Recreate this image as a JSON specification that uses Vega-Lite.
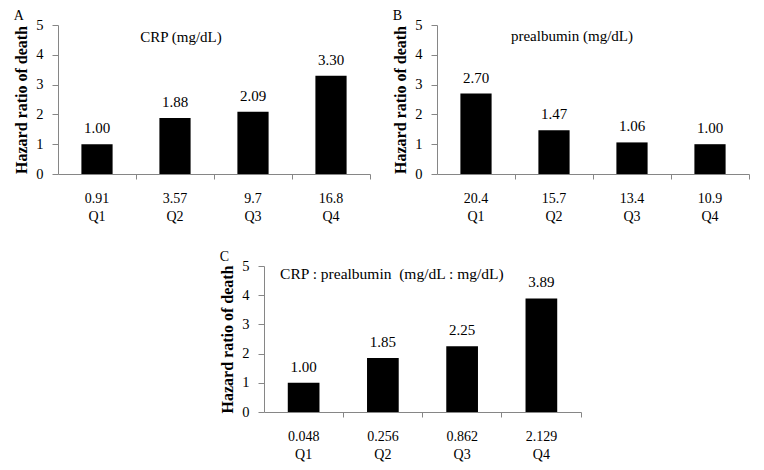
{
  "$schema": "https://vega.github.io/schema/vega-lite/v6.json",
  "background": "white",
  "padding": {"left": 13, "top": 9, "right": 0, "bottom": 0},
  "datasets": {
    "A": [
      {"cat": "0.91|Q1", "hr": 1.00},
      {"cat": "3.57|Q2", "hr": 1.88},
      {"cat": "9.7|Q3", "hr": 2.09},
      {"cat": "16.8|Q4", "hr": 3.30}
    ],
    "B": [
      {"cat": "20.4|Q1", "hr": 2.70},
      {"cat": "15.7|Q2", "hr": 1.47},
      {"cat": "13.4|Q3", "hr": 1.06},
      {"cat": "10.9|Q4", "hr": 1.00}
    ],
    "C": [
      {"cat": "0.048|Q1", "hr": 1.00},
      {"cat": "0.256|Q2", "hr": 1.85},
      {"cat": "0.862|Q3", "hr": 2.25},
      {"cat": "2.129|Q4", "hr": 3.89}
    ]
  },
  "config": {
    "view": {"stroke": null},
    "font": "Liberation Serif",
    "text": {"font": "Liberation Serif", "fontWeight": "normal", "color": "black"},
    "axis": {
      "labelFont": "Liberation Serif",
      "labelFontWeight": "normal",
      "labelColor": "black",
      "titleFont": "Liberation Serif",
      "titleFontSize": 16,
      "titleFontWeight": "bold",
      "titleColor": "black",
      "domainColor": "#868686",
      "tickColor": "#868686",
      "grid": false
    },
    "axisX": {"labelFontSize": 14, "labelBaseline": "top", "labelLineHeight": 18.5, "labelPadding": 12, "labelAngle": 0, "tickSize": 5, "bandPosition": 1.75, "title": null, "labelExpr": "split(datum.label, '|')"},
    "axisY": {"labelFontSize": 14.5, "tickSize": 6, "labelPadding": 9, "titlePadding": 6, "tickCount": 5},
    "title": {"font": "Liberation Serif", "fontSize": 14, "fontWeight": "normal", "color": "black", "anchor": "start", "frame": "bounds", "offset": -6}
  },
  "spacing": 26,
  "vconcat": [
    {
      "spacing": 21,
      "hconcat": [
        {
          "width": 312, "height": 149,
          "title": "A",
          "layer": [
            {
              "data": {"name": "A"},
              "mark": {"type": "bar", "color": "black"},
              "encoding": {
                "x": {"field": "cat", "type": "nominal", "sort": null,
                  "scale": {"domain": ["0.91|Q1", "3.57|Q2", "9.7|Q3", "16.8|Q4"], "paddingInner": 0.6, "paddingOuter": 0.3}},
                "y": {"field": "hr", "type": "quantitative", "scale": {"domain": [0, 5]}, "title": "Hazard ratio of death"}
              }
            },
            {
              "data": {"name": "A"},
              "mark": {"type": "text", "baseline": "bottom", "dy": -8, "fontSize": 15},
              "encoding": {
                "x": {"field": "cat", "type": "nominal", "sort": null},
                "y": {"field": "hr", "type": "quantitative", "title": "Hazard ratio of death"},
                "text": {"field": "hr", "type": "quantitative", "format": ".2f"}
              }
            },
            {
              "data": {"values": [{"label": "CRP (mg/dL)", "pos": "3.57|Q2", "h": 4.6}]},
              "mark": {"type": "text", "fontSize": 15, "baseline": "middle", "dx": 6},
              "encoding": {
                "x": {"field": "pos", "type": "nominal", "sort": null},
                "y": {"field": "h", "type": "quantitative", "title": "Hazard ratio of death"},
                "text": {"field": "label"}
              }
            }
          ]
        },
        {
          "width": 312, "height": 149,
          "title": "B",
          "layer": [
            {
              "data": {"name": "B"},
              "mark": {"type": "bar", "color": "black"},
              "encoding": {
                "x": {"field": "cat", "type": "nominal", "sort": null,
                  "scale": {"domain": ["20.4|Q1", "15.7|Q2", "13.4|Q3", "10.9|Q4"], "paddingInner": 0.6, "paddingOuter": 0.3}},
                "y": {"field": "hr", "type": "quantitative", "scale": {"domain": [0, 5]}, "title": "Hazard ratio of death"}
              }
            },
            {
              "data": {"name": "B"},
              "mark": {"type": "text", "baseline": "bottom", "dy": -8, "fontSize": 15},
              "encoding": {
                "x": {"field": "cat", "type": "nominal", "sort": null},
                "y": {"field": "hr", "type": "quantitative", "title": "Hazard ratio of death"},
                "text": {"field": "hr", "type": "quantitative", "format": ".2f"}
              }
            },
            {
              "data": {"values": [{"label": "prealbumin (mg/dL)", "pos": "15.7|Q2", "h": 4.62}]},
              "mark": {"type": "text", "fontSize": 15, "baseline": "middle", "dx": 18},
              "encoding": {
                "x": {"field": "pos", "type": "nominal", "sort": null},
                "y": {"field": "h", "type": "quantitative", "title": "Hazard ratio of death"},
                "text": {"field": "label"}
              }
            }
          ]
        }
      ]
    },
    {
      "spacing": 0,
      "hconcat": [
        {
          "width": 161, "height": 146,
          "data": {"values": []},
          "mark": {"type": "point", "opacity": 0}
        },
        {
          "width": 317, "height": 146,
          "title": "C",
          "layer": [
            {
              "data": {"name": "C"},
              "mark": {"type": "bar", "color": "black"},
              "encoding": {
                "x": {"field": "cat", "type": "nominal", "sort": null,
                  "scale": {"domain": ["0.048|Q1", "0.256|Q2", "0.862|Q3", "2.129|Q4"], "paddingInner": 0.6, "paddingOuter": 0.3}},
                "y": {"field": "hr", "type": "quantitative", "scale": {"domain": [0, 5]}, "title": "Hazard ratio of death"}
              }
            },
            {
              "data": {"name": "C"},
              "mark": {"type": "text", "baseline": "bottom", "dy": -8, "fontSize": 15},
              "encoding": {
                "x": {"field": "cat", "type": "nominal", "sort": null},
                "y": {"field": "hr", "type": "quantitative", "title": "Hazard ratio of death"},
                "text": {"field": "hr", "type": "quantitative", "format": ".2f"}
              }
            },
            {
              "data": {"values": [{"label": "CRP : prealbumin \u00a0(mg/dL : mg/dL)", "pos": "0.256|Q2", "h": 4.72}]},
              "mark": {"type": "text", "fontSize": 15.5, "baseline": "middle", "dx": 9},
              "encoding": {
                "x": {"field": "pos", "type": "nominal", "sort": null},
                "y": {"field": "h", "type": "quantitative", "title": "Hazard ratio of death"},
                "text": {"field": "label"}
              }
            }
          ]
        }
      ]
    }
  ]
}
